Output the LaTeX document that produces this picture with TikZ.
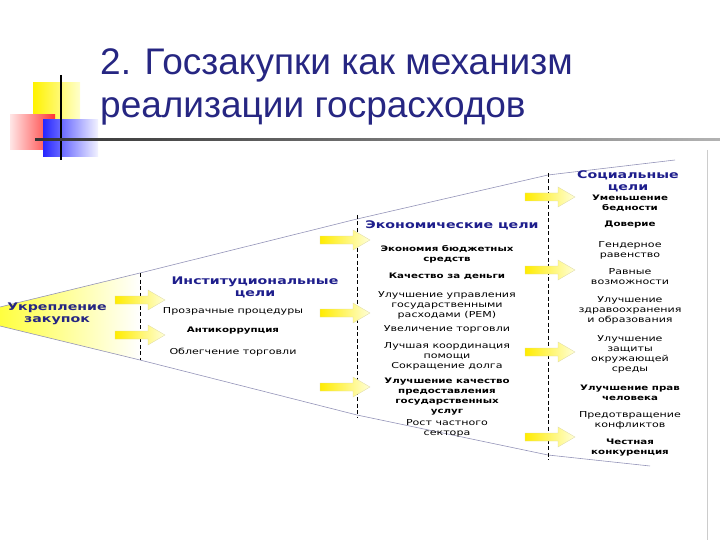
\documentclass[tikz,border=0pt]{standalone}
\usepackage{fontspec}
\setmainfont{Liberation Sans}
\newfontfamily\wf[FakeStretch=1.35]{DejaVu Sans}
\usetikzlibrary{shadings}
\definecolor{navy}{RGB}{38,38,130}
\definecolor{hblue}{RGB}{30,30,140}
\newcommand\yarrow[2]{%
  \shade[left color=yellow!85!orange, right color=yellow!15, draw=yellow!60!black!40, line width=0.3pt]
   (#1,#2-4) -- ++(33,0) -- ++(0,-6) -- ++(17,10) -- ++(-17,10) -- ++(0,-6) -- ++(-33,0) -- cycle;}
\begin{document}
\begin{tikzpicture}[x=1pt,y=-1pt,
  item/.style={align=center,font=\wf\fontsize{8.2}{10}\selectfont,inner sep=0pt},
  bitem/.style={item,font=\wf\bfseries\fontsize{7.6}{10}\selectfont},
  head/.style={align=center,font=\wf\bfseries\fontsize{10.5}{12}\selectfont,text=hblue,inner sep=0pt},
  vdash/.style={dashed,line width=0.8pt,dash pattern=on 4pt off 2.5pt},
  edge/.style={draw=blue!20!gray!70,line width=0.6pt}]
\useasboundingbox (0,0) rectangle (720,540);
% logo
\shade[left color=yellow!90!orange, right color=yellow!20!white] (33,83) rectangle (80,123);
\shade[left color=red!10, right color=red!80] (10,115) rectangle (55,150);
\shade[left color=blue!85, right color=blue!5] (43,120) rectangle (98,157);
\draw[line width=1.2pt] (61,75) -- (61,160);
\shade[left color=black!80, right color=black!30] (35,139) rectangle (720,141);
% title
\node[anchor=base west,inner sep=0pt,text=navy,font=\fontsize{37}{40}\selectfont] (t1) at (100,75) {2. Госзакупки как механизм};
\node[anchor=base west,inner sep=0pt,text=navy,font=\fontsize{37}{40}\selectfont] (t2) at (100,118) {реализации госрасходов};
\draw[gray!40,line width=0.6pt] (707,150) -- (707,540);
% funnel
\shade[left color=yellow!75, right color=white] (0,307) -- (140,273) -- (140,360) -- (0,326) -- cycle;
\draw[edge] (0,307) -- (140,273) -- (357,219) -- (548,175) -- (675,160);
\draw[edge] (0,326) -- (140,360) -- (357,415) -- (548,455) -- (650,466);
\draw[vdash] (140,273) -- (140,360);
\draw[vdash] (357,215) -- (357,418);
\draw[vdash] (548,173) -- (548,460);
% arrows
\yarrow{115}{300}\yarrow{115}{335}
\yarrow{320}{240}\yarrow{320}{313}\yarrow{320}{387}
\yarrow{525}{197}\yarrow{525}{270}\yarrow{525}{352}\yarrow{525}{437}
% texts
\node[head,text=navy] (a) at (57,314) {Укрепление\\закупок};
\node[head] (b) at (255,287) {Институциональные\\цели};
\node[item] (b1) at (233,311) {Прозрачные процедуры};
\node[bitem] (b2) at (233,331) {Антикоррупция};
\node[item] (b3) at (233,352) {Облегчение торговли};
\node[head] (c) at (452,225) {Экономические цели};
\node[bitem] (c1) at (447,254) {Экономия бюджетных\\средств};
\node[bitem] (c2) at (447,276) {Качество за деньги};
\node[item] (c3) at (447,305) {Улучшение управления\\государственными\\расходами (PEM)};
\node[item] (c4) at (447,329) {Увеличение торговли};
\node[item] (c5) at (447,356) {Лучшая координация\\помощи\\Сокращение долга};
\node[bitem] (c6) at (447,397) {Улучшение качество\\предоставления\\государственных\\услуг};
\node[item] (c7) at (447,428) {Рост частного\\сектора};
\node[head] (d) at (628,181) {Социальные\\цели};
\node[bitem] (d1) at (630,203) {Уменьшение\\бедности};
\node[bitem] (d2) at (630,225) {Доверие};
\node[item] (d3) at (630,250) {Гендерное\\равенство};
\node[item] (d4) at (630,277) {Равные\\возможности};
\node[item] (d5) at (630,310) {Улучшение\\здравоохранения\\и образования};
\node[item] (d6) at (630,354) {Улучшение\\защиты\\окружающей\\среды};
\node[bitem] (d7) at (630,393) {Улучшение прав\\человека};
\node[item] (d8) at (630,420) {Предотвращение\\конфликтов};
\node[bitem] (d9) at (630,448) {Честная\\конкуренция};
\end{tikzpicture}
\end{document}
